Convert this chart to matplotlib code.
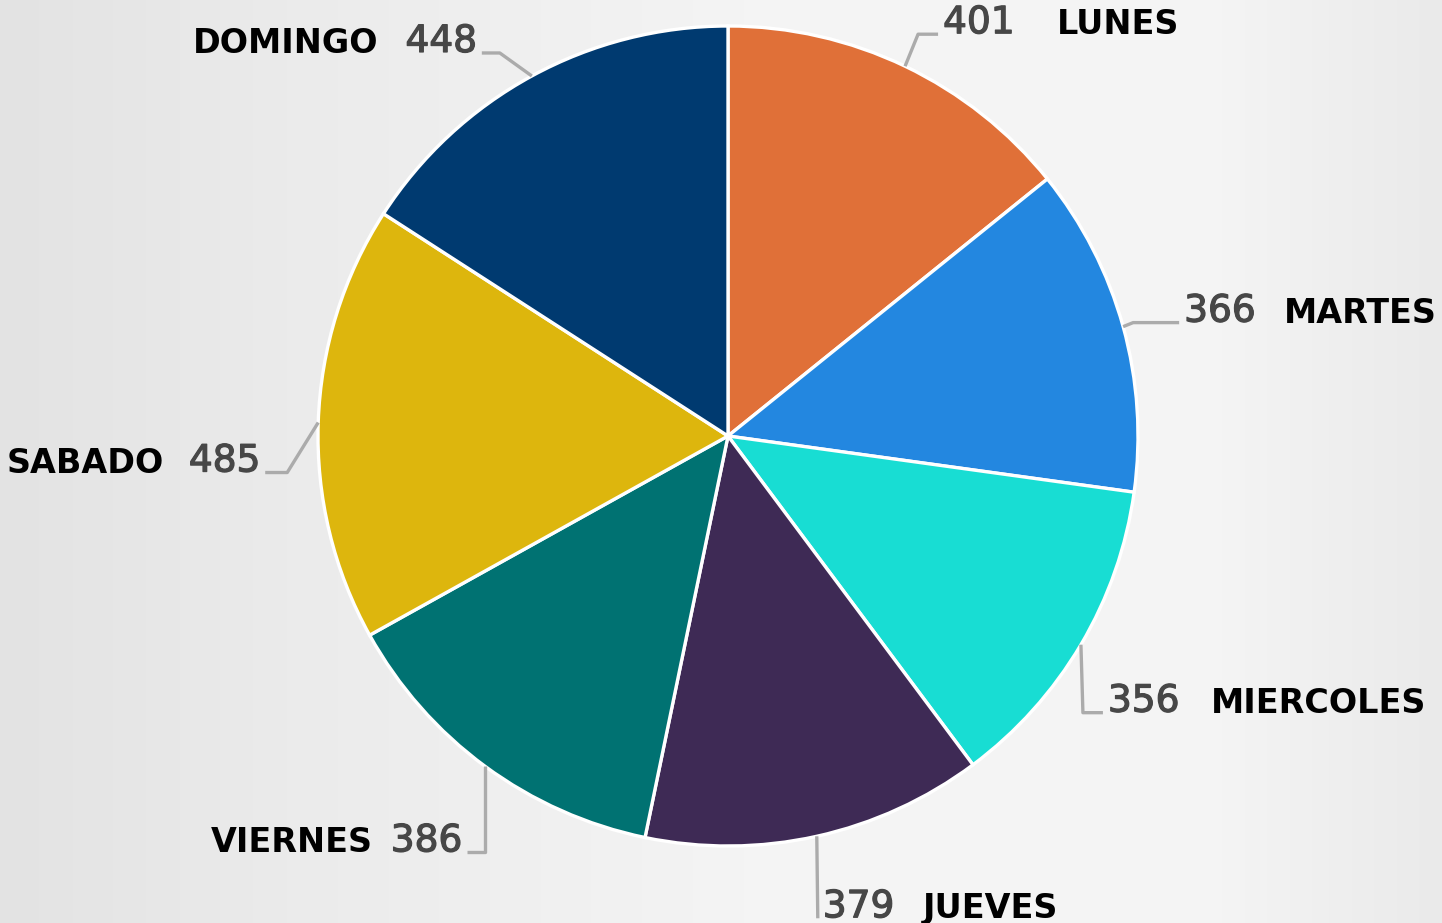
import numpy as np
import matplotlib
matplotlib.use("Agg")
import matplotlib.pyplot as plt
import matplotlib.patheffects as pe
from matplotlib.colors import LinearSegmentedColormap

# data
days = ["LUNES", "MARTES", "MIERCOLES", "JUEVES", "VIERNES", "SABADO", "DOMINGO"]
counts = [401, 366, 356, 379, 386, 485, 448]
colors = ["#E07038", "#2387E0", "#18DDD3", "#3E2A55", "#007272", "#DDB60D", "#003A70"]

# leader line layout (pixels): elbow offset from wedge edge, then horizontal run
elbow = [(13, 32), (10, 4), (2, -68), (1, -82), (0, -86), (-31, -50), (-32, 23)]
run = [20, 46, 20, 0, -18, -22, -18]
name_gap = [42, 28, 32, 28, 18, 25, 27]

W, H = 1442, 923
cx, cy, R = 728, H - 436, 410

fig = plt.figure(figsize=(W / 100, H / 100), dpi=100)
ax = fig.add_axes([0, 0, 1, 1])

# background gradient
bg = LinearSegmentedColormap.from_list(
    "bg", [(0, "#e3e3e3"), (0.2, "#ebebeb"), (0.55, "#f5f5f5"),
           (0.85, "#f4f4f4"), (1, "#eaeaea")])
ax.imshow(np.linspace(0, 1, 256)[None, :], cmap=bg, aspect="auto",
          extent=[0, W, 0, H], zorder=0)

wedges, _ = ax.pie(counts, colors=colors, startangle=90, counterclock=False,
                   center=(cx, cy), radius=R, frame=True,
                   wedgeprops=dict(edgecolor="white", linewidth=2.4))

bolder = [pe.withStroke(linewidth=0.9, foreground="#474747")]
for w, day, val, (ex, ey), r, g in zip(wedges, days, counts, elbow, run, name_gap):
    ang = np.deg2rad((w.theta1 + w.theta2) / 2)
    x0, y0 = cx + R * np.cos(ang), cy + R * np.sin(ang)
    x1, y1 = x0 + ex, y0 + ey
    x2 = x1 + r
    ax.plot([x0, x1, x2], [y0, y1, y1], color="#ababab", lw=2.4,
            solid_capstyle="butt", zorder=3)
    right = (r > 0) or (r == 0 and ex >= 0)
    t = ax.text(x2 + (5 if right else -5), y1 + 1, str(val),
                ha="left" if right else "right", va="baseline",
                fontsize=27, color="#474747", family="DejaVu Sans",
                path_effects=bolder)
    if right:
        ax.annotate(day, xy=(1, 0), xycoords=t, xytext=(g, 0),
                    textcoords="offset pixels", ha="left", va="bottom",
                    fontsize=24, fontweight="bold", color="black", family="DejaVu Sans")
    else:
        ax.annotate(day, xy=(0, 0), xycoords=t, xytext=(-g, 0),
                    textcoords="offset pixels", ha="right", va="bottom",
                    fontsize=24, fontweight="bold", color="black", family="DejaVu Sans")

ax.set_xlim(0, W)
ax.set_ylim(0, H)
ax.set_aspect("auto")
ax.axis("off")

fig.savefig("out.png", dpi=100)
